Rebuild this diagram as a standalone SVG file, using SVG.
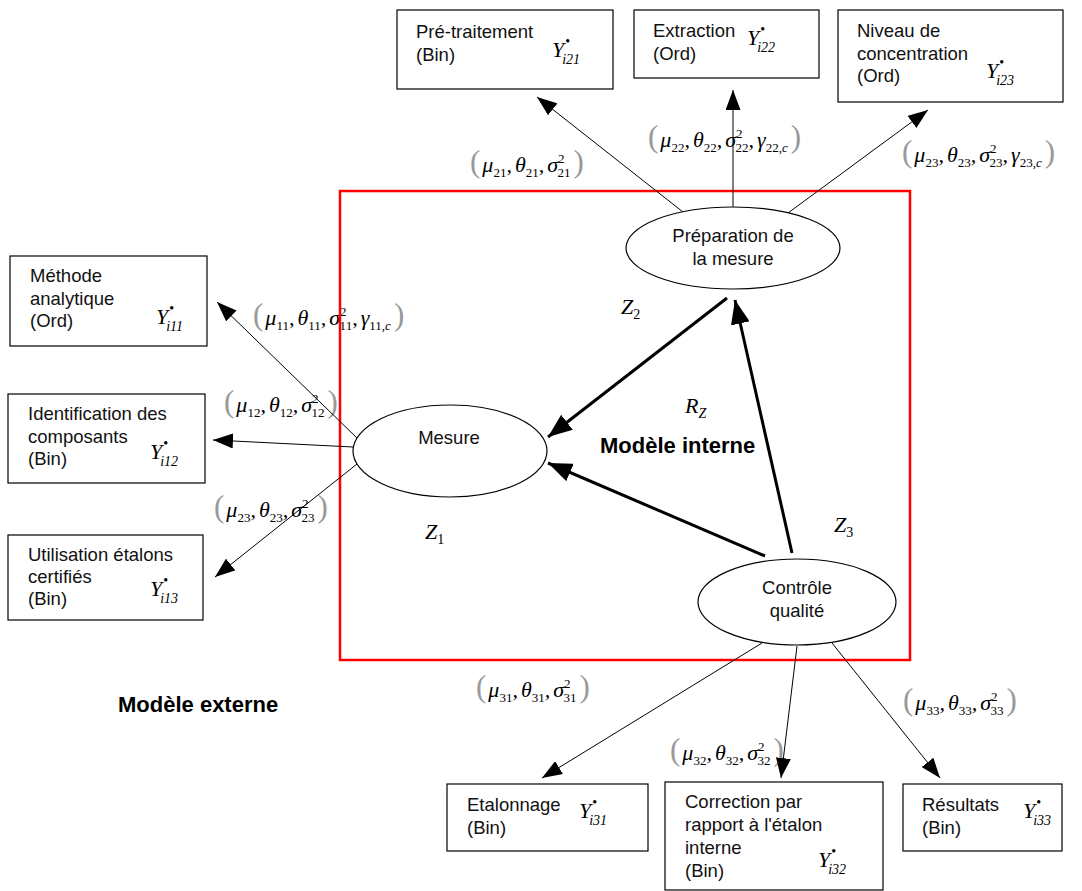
<svg xmlns="http://www.w3.org/2000/svg" width="1082" height="891" viewBox="0 0 1082 891">
<defs>
<style>
.box{fill:#fff;stroke:#000;stroke-width:1.2}
.ell{fill:#fff;stroke:#000;stroke-width:1.2}
.t{font-family:"Liberation Sans",Arial,sans-serif;font-size:18.5px;fill:#111}
.tc{font-family:"Liberation Sans",Arial,sans-serif;font-size:18.5px;fill:#111;text-anchor:middle}
.bold{font-family:"Liberation Sans",Arial,sans-serif;font-size:22px;font-weight:bold;fill:#000}
.y{font-family:"Liberation Serif","Times New Roman",serif;font-size:22px;font-style:italic;fill:#000}
.bul{font-size:14px;font-style:normal}
.ys{font-size:14px}
.zs{font-size:14px;font-style:normal}
.f{font-family:"Liberation Serif","Times New Roman",serif;font-size:22px;font-style:italic;fill:#000}
.sb{font-size:13px;font-style:normal}
.par{font-size:31px;font-style:normal;fill:#999}
.thin{stroke:#000;stroke-width:1;fill:none;marker-end:url(#ah)}
.thick{stroke:#000;stroke-width:3;fill:none;marker-end:url(#ahb)}
.red{fill:none;stroke:#f00;stroke-width:2.5}
</style>
<marker id="ah" viewBox="0 0 20 15" refX="20" refY="7.5" markerWidth="20" markerHeight="15" orient="auto" markerUnits="userSpaceOnUse"><path d="M0,0L20,7.5L0,15z" fill="#000"/></marker>
<marker id="ahb" viewBox="0 0 24 19" refX="24" refY="9.5" markerWidth="24" markerHeight="19" orient="auto" markerUnits="userSpaceOnUse"><path d="M0,0L24,9.5L0,19z" fill="#000"/></marker>
</defs>
<rect width="1082" height="891" fill="#fff"/>

<g id="formulas">
<text class="f" x="470" y="172"><tspan class="par">(</tspan><tspan dx="2">μ</tspan><tspan class="sb" dy="5">21</tspan><tspan dy="-5">,</tspan><tspan dx="3">θ</tspan><tspan class="sb" dy="5">21</tspan><tspan dy="-5">,</tspan><tspan dx="3">σ</tspan><tspan class="sb" dy="-9">2</tspan><tspan class="sb" dx="-7" dy="14">21</tspan><tspan class="par" dx="3" dy="-5">)</tspan></text>
<text class="f" x="648" y="147"><tspan class="par">(</tspan><tspan dx="2">μ</tspan><tspan class="sb" dy="5">22</tspan><tspan dy="-5">,</tspan><tspan dx="3">θ</tspan><tspan class="sb" dy="5">22</tspan><tspan dy="-5">,</tspan><tspan dx="3">σ</tspan><tspan class="sb" dy="-9">2</tspan><tspan class="sb" dx="-7" dy="14">22</tspan><tspan dy="-5">,</tspan><tspan dx="3">γ</tspan><tspan class="sb" dy="5">22,</tspan><tspan class="sb" style="font-style:italic">c</tspan><tspan class="par" dx="3" dy="-5">)</tspan></text>
<text class="f" x="902" y="162"><tspan class="par">(</tspan><tspan dx="2">μ</tspan><tspan class="sb" dy="5">23</tspan><tspan dy="-5">,</tspan><tspan dx="3">θ</tspan><tspan class="sb" dy="5">23</tspan><tspan dy="-5">,</tspan><tspan dx="3">σ</tspan><tspan class="sb" dy="-9">2</tspan><tspan class="sb" dx="-7" dy="14">23</tspan><tspan dy="-5">,</tspan><tspan dx="3">γ</tspan><tspan class="sb" dy="5">23,</tspan><tspan class="sb" style="font-style:italic">c</tspan><tspan class="par" dx="3" dy="-5">)</tspan></text>
<text class="f" x="253" y="325"><tspan class="par">(</tspan><tspan dx="2">μ</tspan><tspan class="sb" dy="5">11</tspan><tspan dy="-5">,</tspan><tspan dx="3">θ</tspan><tspan class="sb" dy="5">11</tspan><tspan dy="-5">,</tspan><tspan dx="3">σ</tspan><tspan class="sb" dy="-9">2</tspan><tspan class="sb" dx="-7" dy="14">11</tspan><tspan dy="-5">,</tspan><tspan dx="3">γ</tspan><tspan class="sb" dy="5">11,</tspan><tspan class="sb" style="font-style:italic">c</tspan><tspan class="par" dx="3" dy="-5">)</tspan></text>
<text class="f" x="224" y="412"><tspan class="par">(</tspan><tspan dx="2">μ</tspan><tspan class="sb" dy="5">12</tspan><tspan dy="-5">,</tspan><tspan dx="3">θ</tspan><tspan class="sb" dy="5">12</tspan><tspan dy="-5">,</tspan><tspan dx="3">σ</tspan><tspan class="sb" dy="-9">2</tspan><tspan class="sb" dx="-7" dy="14">12</tspan><tspan class="par" dx="3" dy="-5">)</tspan></text>
<text class="f" x="214" y="517"><tspan class="par">(</tspan><tspan dx="2">μ</tspan><tspan class="sb" dy="5">23</tspan><tspan dy="-5">,</tspan><tspan dx="3">θ</tspan><tspan class="sb" dy="5">23</tspan><tspan dy="-5">,</tspan><tspan dx="3">σ</tspan><tspan class="sb" dy="-9">2</tspan><tspan class="sb" dx="-7" dy="14">23</tspan><tspan class="par" dx="3" dy="-5">)</tspan></text>
<text class="f" x="476" y="697"><tspan class="par">(</tspan><tspan dx="2">μ</tspan><tspan class="sb" dy="5">31</tspan><tspan dy="-5">,</tspan><tspan dx="3">θ</tspan><tspan class="sb" dy="5">31</tspan><tspan dy="-5">,</tspan><tspan dx="3">σ</tspan><tspan class="sb" dy="-9">2</tspan><tspan class="sb" dx="-7" dy="14">31</tspan><tspan class="par" dx="3" dy="-5">)</tspan></text>
<text class="f" x="670" y="760"><tspan class="par">(</tspan><tspan dx="2">μ</tspan><tspan class="sb" dy="5">32</tspan><tspan dy="-5">,</tspan><tspan dx="3">θ</tspan><tspan class="sb" dy="5">32</tspan><tspan dy="-5">,</tspan><tspan dx="3">σ</tspan><tspan class="sb" dy="-9">2</tspan><tspan class="sb" dx="-7" dy="14">32</tspan><tspan class="par" dx="3" dy="-5">)</tspan></text>
<text class="f" x="903" y="710"><tspan class="par">(</tspan><tspan dx="2">μ</tspan><tspan class="sb" dy="5">33</tspan><tspan dy="-5">,</tspan><tspan dx="3">θ</tspan><tspan class="sb" dy="5">33</tspan><tspan dy="-5">,</tspan><tspan dx="3">σ</tspan><tspan class="sb" dy="-9">2</tspan><tspan class="sb" dx="-7" dy="14">33</tspan><tspan class="par" dx="3" dy="-5">)</tspan></text>
</g>

<rect id="modele-interne-frame" class="red" x="340" y="191" width="570" height="469"/>

<g id="connectors">
<line class="thin" x1="683" y1="212" x2="537" y2="97"/>
<line class="thin" x1="733" y1="207" x2="733" y2="90"/>
<line class="thin" x1="788" y1="213" x2="928" y2="110"/>
<line class="thin" x1="357" y1="438" x2="217" y2="302"/>
<line class="thin" x1="353" y1="447" x2="213" y2="440"/>
<line class="thin" x1="357" y1="464" x2="215" y2="577"/>
<line class="thin" x1="762" y1="643" x2="542" y2="778"/>
<line class="thin" x1="797" y1="646" x2="781" y2="778"/>
<line class="thin" x1="832" y1="643" x2="940" y2="778"/>
<line class="thick" x1="727" y1="298" x2="548" y2="437"/>
<line class="thick" x1="765" y1="556" x2="548" y2="463"/>
<line class="thick" x1="792" y1="553" x2="735" y2="300"/>
</g>

<g id="n-preparation">
<ellipse class="ell" cx="733" cy="248" rx="107" ry="41"/>
<text class="tc" x="733" y="242">Préparation de</text>
<text class="tc" x="733" y="265">la mesure</text>
</g>
<g id="n-mesure">
<ellipse class="ell" cx="450" cy="451" rx="97" ry="46"/>
<text class="tc" x="449" y="444">Mesure</text>
</g>
<g id="n-controle">
<ellipse class="ell" cx="797" cy="602" rx="99" ry="43"/>
<text class="tc" x="797" y="594">Contrôle</text>
<text class="tc" x="797" y="617">qualité</text>
</g>

<g id="labels">
<text class="y" x="621" y="314">Z<tspan class="zs" dy="5">2</tspan></text>
<text class="y" x="425" y="539">Z<tspan class="zs" dy="5">1</tspan></text>
<text class="y" x="834" y="532">Z<tspan class="zs" dy="5">3</tspan></text>
<text class="y" x="685" y="413">R<tspan class="ys" dy="5">Z</tspan></text>
<text class="bold" x="600" y="453">Modèle interne</text>
<text class="bold" x="118" y="712">Modèle externe</text>
</g>

<g id="n-pretraitement">
<rect class="box" x="397" y="10" width="216" height="79"/>
<text class="t" x="416" y="38">Pré-traitement</text>
<text class="t" x="416" y="61">(Bin)</text>
<text class="y" x="552" y="57">Y<tspan class="bul" dx="1" dy="-11">•</tspan><tspan class="ys" dx="-8" dy="18">i21</tspan></text>
</g>
<g id="n-extraction">
<rect class="box" x="634" y="10" width="185" height="68"/>
<text class="t" x="653" y="37">Extraction</text>
<text class="t" x="653" y="60">(Ord)</text>
<text class="y" x="747" y="45">Y<tspan class="bul" dx="1" dy="-11">•</tspan><tspan class="ys" dx="-8" dy="18">i22</tspan></text>
</g>
<g id="n-niveau">
<rect class="box" x="838" y="10" width="225" height="92"/>
<text class="t" x="857" y="37">Niveau de</text>
<text class="t" x="857" y="60">concentration</text>
<text class="t" x="857" y="82">(Ord)</text>
<text class="y" x="986" y="78">Y<tspan class="bul" dx="1" dy="-11">•</tspan><tspan class="ys" dx="-8" dy="18">i23</tspan></text>
</g>
<g id="n-methode">
<rect class="box" x="10" y="256" width="197" height="90"/>
<text class="t" x="30" y="282">Méthode</text>
<text class="t" x="30" y="305">analytique</text>
<text class="t" x="30" y="327">(Ord)</text>
<text class="y" x="156" y="324">Y<tspan class="bul" dx="1" dy="-11">•</tspan><tspan class="ys" dx="-8" dy="18">i11</tspan></text>
</g>
<g id="n-identification">
<rect class="box" x="8" y="394" width="197" height="89"/>
<text class="t" x="28" y="420">Identification des</text>
<text class="t" x="28" y="443">composants</text>
<text class="t" x="28" y="465">(Bin)</text>
<text class="y" x="150" y="459">Y<tspan class="bul" dx="1" dy="-11">•</tspan><tspan class="ys" dx="-8" dy="18">i12</tspan></text>
</g>
<g id="n-utilisation">
<rect class="box" x="8" y="535" width="195" height="85"/>
<text class="t" x="28" y="561">Utilisation étalons</text>
<text class="t" x="28" y="583">certifiés</text>
<text class="t" x="28" y="605">(Bin)</text>
<text class="y" x="150" y="596">Y<tspan class="bul" dx="1" dy="-11">•</tspan><tspan class="ys" dx="-8" dy="18">i13</tspan></text>
</g>
<g id="n-etalonnage">
<rect class="box" x="447" y="784" width="201" height="67"/>
<text class="t" x="467" y="811">Etalonnage</text>
<text class="t" x="467" y="834">(Bin)</text>
<text class="y" x="579" y="818">Y<tspan class="bul" dx="1" dy="-11">•</tspan><tspan class="ys" dx="-8" dy="18">i31</tspan></text>
</g>
<g id="n-correction">
<rect class="box" x="665" y="782" width="218" height="108"/>
<text class="t" x="685" y="808">Correction par</text>
<text class="t" x="685" y="831">rapport à l'étalon</text>
<text class="t" x="685" y="854">interne</text>
<text class="t" x="685" y="877">(Bin)</text>
<text class="y" x="818" y="867">Y<tspan class="bul" dx="1" dy="-11">•</tspan><tspan class="ys" dx="-8" dy="18">i32</tspan></text>
</g>
<g id="n-resultats">
<rect class="box" x="903" y="784" width="159" height="67"/>
<text class="t" x="922" y="811">Résultats</text>
<text class="t" x="922" y="834">(Bin)</text>
<text class="y" x="1023" y="818">Y<tspan class="bul" dx="1" dy="-11">•</tspan><tspan class="ys" dx="-8" dy="18">i33</tspan></text>
</g>
</svg>
